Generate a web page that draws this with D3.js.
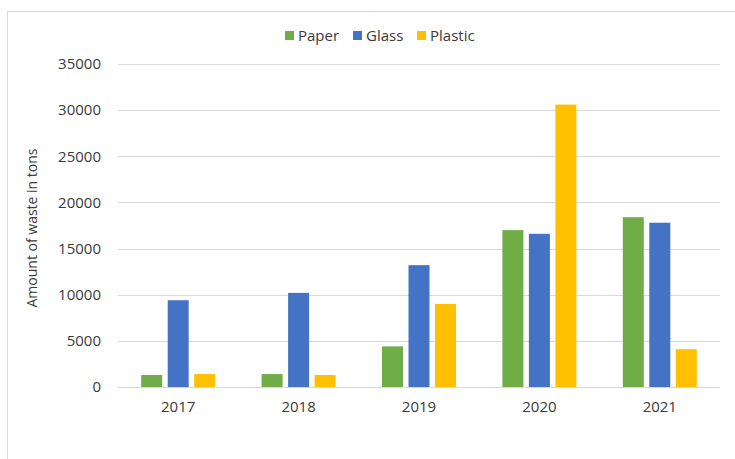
<!DOCTYPE html>
<html>
<head>
<meta charset="utf-8">
<script src="https://cdn.jsdelivr.net/npm/d3@7"></script>
<style>
  html, body { margin: 0; padding: 0; background: #ffffff; }
  svg { display: block; }
  text { font-family: "Open Sans", "Noto Sans", sans-serif; fill: #3a3a3a; }
</style>
</head>
<body>
<script>
// Recycled waste per year, in tons
const years = ["2017", "2018", "2019", "2020", "2021"];
const seriesNames = ["Paper", "Glass", "Plastic"];
const paper   = [1300, 1400, 4400, 17000, 18400];
const glass   = [9400, 10200, 13200, 16600, 17800];
const plastic = [1400, 1300, 9000, 30600, 4100];
const yTicks = [0, 5000, 10000, 15000, 20000, 25000, 30000, 35000];
const colors = ["#70AD47", "#4472C4", "#FFC000"];

const seriesValues = [paper, glass, plastic];

const W = 735, H = 459;
const plot = { left: 118, right: 720, top: 64, bottom: 387 };
const labelSize = "15px";

const svg = d3.select("body").append("svg")
  .attr("width", W).attr("height", H);

// chart frame
svg.append("rect")
  .attr("x", 7.5).attr("y", 11.5)
  .attr("width", W + 10).attr("height", H + 10)
  .attr("fill", "#ffffff")
  .attr("stroke", "#d9d9d9").attr("stroke-width", 1);

const x0 = d3.scaleBand()
  .domain(years)
  .range([plot.left, plot.right])
  .paddingInner(0).paddingOuter(0);

const barW = 21, barStep = 26.5;
const x1 = d3.scalePoint()
  .domain(seriesNames)
  .range([-barStep, barStep]);

const y = d3.scaleLinear()
  .domain([0, 35000])
  .range([plot.bottom, plot.top]);

// horizontal gridlines
svg.append("g")
  .selectAll("line")
  .data(yTicks)
  .join("line")
  .attr("x1", plot.left).attr("x2", plot.right)
  .attr("y1", d => Math.round(y(d)) + 0.5)
  .attr("y2", d => Math.round(y(d)) + 0.5)
  .attr("stroke", "#d9d9d9").attr("stroke-width", 1);

// y axis labels
const yAxis = d3.axisLeft(y).tickValues(yTicks).tickSize(0).tickPadding(0).tickFormat(d3.format("d"));
const gy = svg.append("g").attr("transform", `translate(${101},0)`).call(yAxis);
gy.select(".domain").remove();
gy.selectAll("text")
  .attr("font-size", labelSize)
  .attr("font-family", "'Open Sans', sans-serif")
  .attr("fill", "#3a3a3a");

// x axis labels
const xAxis = d3.axisBottom(x0).tickSize(0).tickPadding(0);
const gx = svg.append("g").attr("transform", `translate(0,${401})`).call(xAxis);
gx.select(".domain").remove();
gx.selectAll("text")
  .attr("font-size", labelSize)
  .attr("font-family", "'Open Sans', sans-serif")
  .attr("fill", "#3a3a3a");

// bars
const groups = svg.append("g")
  .selectAll("g")
  .data(years)
  .join("g")
  .attr("transform", d => `translate(${x0(d) + x0.bandwidth() / 2},0)`);

groups.selectAll("rect")
  .data((yr, i) => seriesNames.map((s, k) => ({ s, v: seriesValues[k][i], c: colors[k] })))
  .join("rect")
  .attr("x", d => x1(d.s) - barW / 2)
  .attr("width", barW)
  .attr("y", d => y(d.v))
  .attr("height", d => y(0) - y(d.v))
  .attr("fill", d => d.c);

// y axis title
svg.append("text")
  .attr("transform", `translate(37,228) rotate(-90)`)
  .attr("text-anchor", "middle")
  .attr("font-size", "14px")
  .text("Amount of waste in tons");

// legend
const legendX = [285, 353, 417];
const legend = svg.append("g")
  .selectAll("g")
  .data(seriesNames)
  .join("g")
  .attr("transform", (d, i) => `translate(${legendX[i]},31)`);
legend.append("rect")
  .attr("width", 9).attr("height", 9)
  .attr("fill", (d, i) => colors[i]);
legend.append("text")
  .attr("x", 13).attr("y", 10)
  .attr("font-size", labelSize)
  .text(d => d);
</script>
</body>
</html>
